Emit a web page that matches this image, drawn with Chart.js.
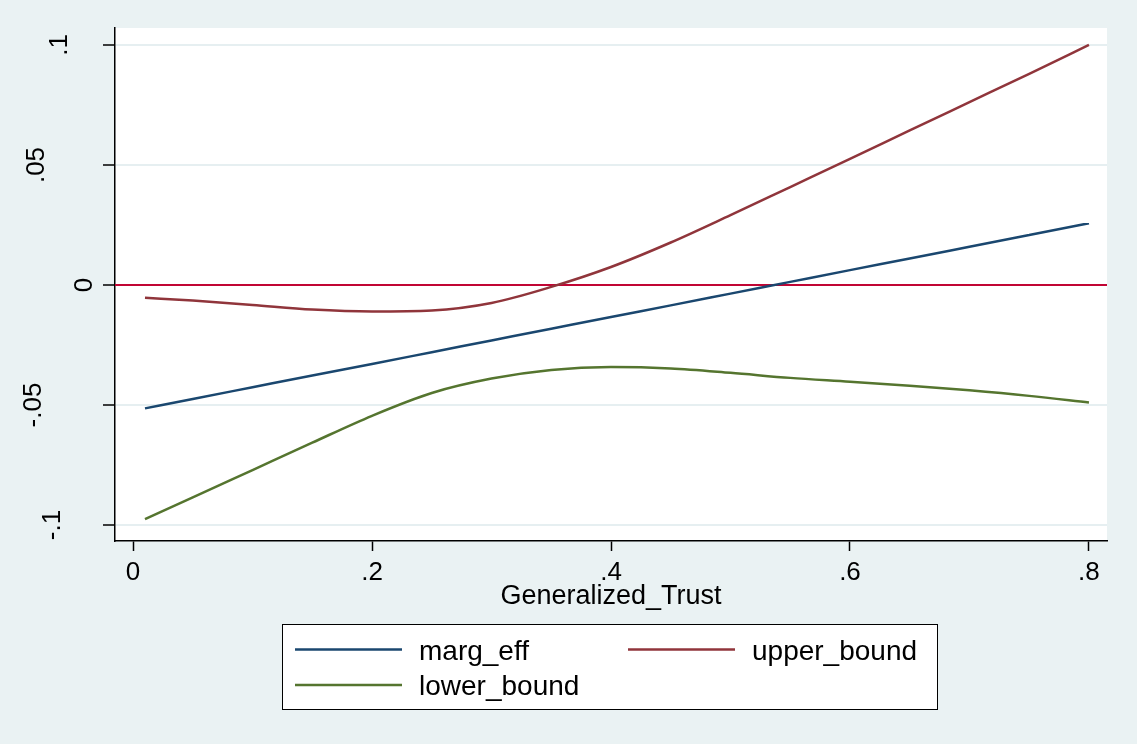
<!DOCTYPE html>
<html>
<head>
<meta charset="utf-8">
<script src="https://cdn.jsdelivr.net/npm/chart.js@4.4.1/dist/chart.umd.min.js"></script>
<style>
  html, body { margin: 0; padding: 0; background: #EAF2F3; }
  #wrap { width: 1137px; height: 744px; position: relative; }
</style>
</head>
<body>
<div id="wrap"><canvas id="chart"></canvas></div>
<script>
// values
const trust = [0.01, 0.05, 0.1, 0.15, 0.2, 0.25, 0.3, 0.35, 0.4, 0.45, 0.5, 0.55, 0.6, 0.65, 0.7, 0.75, 0.8];
const margEff = [-0.0514, -0.0475, -0.0426, -0.0377, -0.0329, -0.0280, -0.0231, -0.0182, -0.0133, -0.0085, -0.0036, 0.0013, 0.0062, 0.0110, 0.0159, 0.0208, 0.0257];
const upperBound = [-0.0053, -0.0065, -0.0083, -0.0102, -0.0110, -0.0106, -0.0075, -0.0008, 0.0075, 0.0177, 0.0291, 0.0408, 0.0525, 0.0644, 0.0762, 0.0880, 0.1000];
const lowerBound = [-0.0976, -0.0885, -0.0771, -0.0657, -0.0545, -0.0450, -0.0390, -0.0354, -0.0342, -0.0348, -0.0366, -0.0387, -0.0403, -0.0420, -0.0439, -0.0462, -0.0490];
const seriesNames = ["marg_eff", "upper_bound", "lower_bound"];
const xTicks = [0, 0.2, 0.4, 0.6, 0.8];
const xTickLabels = ["0", ".2", ".4", ".6", ".8"];
const yTicks = [-0.1, -0.05, 0, 0.05, 0.1];
const yTickLabels = ["-.1", "-.05", "0", ".05", ".1"];
const xTitle = "Generalized_Trust";

const X_MIN = -0.0151, X_MAX = 0.8151;
const Y_MIN = -0.10667, Y_MAX = 0.10708;
const FONT = "'Liberation Sans', Arial, sans-serif";
const colors = ["#1A476F", "#90353B", "#55752F"];

const pts = (ys) => trust.map((x, i) => ({ x: x, y: ys[i] }));

// stata-ish rotated y labels sit at different depths
const yLabelBase = { "-.1": 60, "-.05": 41, "0": 92, ".05": 44, ".1": 67 };

const stataDecor = {
  id: "stataDecor",
  beforeDraw(chart) {
    const { ctx, chartArea: a } = chart;
    ctx.save();
    ctx.fillStyle = "#EAF2F3";
    ctx.fillRect(0, 0, chart.width, chart.height);
    ctx.fillStyle = "#FFFFFF";
    ctx.fillRect(a.left, a.top, a.right - a.left, a.bottom - a.top);
    ctx.restore();
  },
  afterDraw(chart) {
    const { ctx, chartArea: a } = chart;
    const xs = chart.scales.x, ys = chart.scales.y;
    ctx.save();
    ctx.fillStyle = "#000";
    // x tick labels
    ctx.font = "26px " + FONT;
    ctx.textAlign = "center";
    ctx.textBaseline = "alphabetic";
    xTicks.forEach((v, i) => {
      ctx.fillText(xTickLabels[i], xs.getPixelForValue(v), 580);
    });
    // y tick labels, rotated
    yTicks.forEach((v, i) => {
      const lab = yTickLabels[i];
      ctx.save();
      ctx.translate(yLabelBase[lab], ys.getPixelForValue(v));
      ctx.rotate(-Math.PI / 2);
      ctx.fillText(lab, 0, 0);
      ctx.restore();
    });
    // axis title
    ctx.font = "27px " + FONT;
    ctx.fillText(xTitle, (a.left + a.right) / 2, 604);

    // legend box
    ctx.fillStyle = "#FFFFFF";
    ctx.fillRect(282.5, 624.5, 655, 85);
    ctx.strokeStyle = "#000";
    ctx.lineWidth = 1;
    ctx.strokeRect(282.5, 624.5, 655, 85);
    ctx.font = "28px " + FONT;
    ctx.textAlign = "left";
    seriesNames.forEach((name, i) => {
      const col = i % 2, row = Math.floor(i / 2);
      const lx = 295 + col * 333, ly = 649.5 + row * 35.5;
      ctx.strokeStyle = colors[i];
      ctx.lineWidth = 2.5;
      ctx.beginPath();
      ctx.moveTo(lx, ly);
      ctx.lineTo(lx + 107, ly);
      ctx.stroke();
      ctx.fillStyle = "#000";
      ctx.fillText(name, lx + 124, ly + 10);
    });
    ctx.restore();
  }
};

new Chart(document.getElementById("chart"), {
  type: "line",
  data: {
    datasets: [
      { label: seriesNames[0], data: pts(margEff), borderColor: colors[0], borderWidth: 2.5, pointRadius: 0, cubicInterpolationMode: "monotone" },
      { label: seriesNames[1], data: pts(upperBound), borderColor: colors[1], borderWidth: 2.5, pointRadius: 0, cubicInterpolationMode: "monotone" },
      { label: seriesNames[2], data: pts(lowerBound), borderColor: colors[2], borderWidth: 2.5, pointRadius: 0, cubicInterpolationMode: "monotone" },
      // reference line at zero
      { label: "zero", data: [{ x: X_MIN, y: 0 }, { x: X_MAX, y: 0 }], borderColor: "#C10534", borderWidth: 2.2, pointRadius: 0 }
    ]
  },
  options: {
    responsive: true,
    maintainAspectRatio: false,
    animation: false,
    layout: { padding: { left: 0, top: 28, right: 30, bottom: 0 } },
    plugins: { legend: { display: false }, tooltip: { enabled: false } },
    scales: {
      x: {
        type: "linear",
        min: X_MIN,
        max: X_MAX,
        afterBuildTicks: (s) => { s.ticks = xTicks.map(v => ({ value: v })); },
        afterFit: (s) => { s.height = 203; },
        ticks: { display: false },
        grid: { color: "rgba(0,0,0,0)", tickColor: "#000", tickLength: 10, tickWidth: 1.5 },
        border: { display: true, color: "#000", width: 1.5 }
      },
      y: {
        min: Y_MIN,
        max: Y_MAX,
        afterBuildTicks: (s) => { s.ticks = yTicks.map(v => ({ value: v })); },
        afterFit: (s) => { s.width = 115; },
        ticks: { display: false },
        grid: { color: "#E6EFF1", lineWidth: 2, tickColor: "#000", tickLength: 12, tickWidth: 1.5 },
        border: { display: true, color: "#000", width: 1.5 }
      }
    }
  },
  plugins: [stataDecor]
});
</script>
</body>
</html>
